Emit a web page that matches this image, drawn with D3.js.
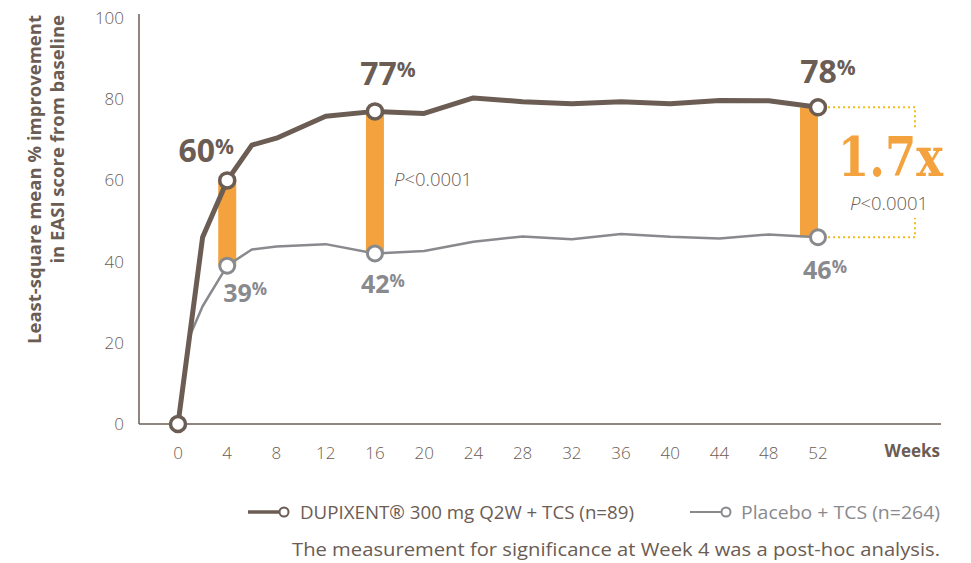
<!DOCTYPE html>
<html lang="en">
<head>
    <meta charset="UTF-8">
    <script src="https://d3js.org/d3.v7.min.js"></script>
    <title>EASI improvement</title>
    <style>
        body { margin: 0; background: #fff; }
        svg { display: block; font-family: "Open Sans", sans-serif; }
    </style>
</head>
<body>
    <script>
        var weeks = [0, 1, 2, 4, 6, 8, 12, 16, 20, 24, 28, 32, 36, 40, 44, 48, 52];
        var dupixent = [0, 23, 46, 60, 68.7, 70.4, 75.8, 77, 76.5, 80.3, 79.4, 78.9, 79.4, 78.9, 79.7, 79.6, 78];
        var placebo = [0, 22, 29, 39, 43, 43.7, 44.3, 42, 42.6, 44.9, 46.2, 45.5, 46.8, 46.1, 45.7, 46.7, 46];
        var markerWeeks = [0, 4, 16, 52];
        var highlightWeeks = [4, 16, 52];
        var xTicks = d3.range(0, 53, 4);
        var yTicks = [0, 20, 40, 60, 80, 100];
        var seriesNames = ['DUPIXENT\u00AE 300 mg Q2W + TCS (n=89)', 'Placebo + TCS (n=264)'];

        var brown = '#6b5c54', grey = '#898a8e', orange = '#f3a23e', gold = '#f6bc1a';
        var width = 971, height = 563;

        var x = d3.scaleLinear().domain([0, 52]).range([178, 818]);
        var y = d3.scaleLinear().domain([0, 100]).range([424, 18]);

        var svg = d3.select('body').append('svg')
            .attr('width', width)
            .attr('height', height);

        var valueAt = function(arr, w) { return arr[weeks.indexOf(w)]; };

        // axes
        svg.append('line')
            .attr('x1', 139).attr('x2', 139)
            .attr('y1', 14).attr('y2', y(0))
            .attr('stroke', brown).attr('stroke-width', 1.5);
        svg.append('line')
            .attr('x1', 139).attr('x2', 941)
            .attr('y1', y(0)).attr('y2', y(0))
            .attr('stroke', brown).attr('stroke-width', 1.5);

        svg.selectAll('.ytick')
            .data(yTicks)
            .enter()
            .append('text')
            .attr('x', 124)
            .attr('y', function(d) { return y(d) + 6; })
            .attr('text-anchor', 'end')
            .attr('font-size', '17px')
            .attr('font-weight', 300)
            .attr('fill', brown)
            .text(function(d) { return d; });

        svg.selectAll('.xtick')
            .data(xTicks)
            .enter()
            .append('text')
            .attr('x', function(d) { return x(d); })
            .attr('y', 459)
            .attr('text-anchor', 'middle')
            .attr('font-size', '17px')
            .attr('font-weight', 300)
            .attr('fill', brown)
            .text(function(d) { return d; });

        svg.append('text')
            .attr('x', 940).attr('y', 457)
            .attr('text-anchor', 'end')
            .attr('font-size', '17px')
            .attr('font-weight', 700)
            .attr('fill', brown)
            .text('Weeks');

        var yTitle = svg.append('text')
            .attr('transform', 'translate(0,15) rotate(-90)')
            .attr('text-anchor', 'end')
            .attr('font-size', '18.5px')
            .attr('font-weight', 700)
            .attr('fill', brown);
        yTitle.append('tspan').attr('x', 0).attr('y', 41).text('Least-square mean % improvement');
        yTitle.append('tspan').attr('x', 0).attr('y', 64).text('in EASI score from baseline');

        // orange difference bars
        var barShift = { 4: 0, 16: 0, 52: -9 };
        svg.selectAll('.diff')
            .data(highlightWeeks)
            .enter()
            .append('rect')
            .attr('x', function(d) { return x(d) - 9 + barShift[d]; })
            .attr('width', 18)
            .attr('y', function(d) { return y(valueAt(dupixent, d)); })
            .attr('height', function(d) { return y(valueAt(placebo, d)) - y(valueAt(dupixent, d)); })
            .attr('fill', orange);

        // dotted bracket at week 52
        var d52 = y(valueAt(dupixent, 52)), p52 = y(valueAt(placebo, 52));
        svg.append('path')
            .attr('d', 'M' + (x(52) + 10) + ',' + d52 + 'H915V130')
            .attr('fill', 'none').attr('stroke', gold)
            .attr('stroke-width', 2).attr('stroke-dasharray', '2,3');
        svg.append('path')
            .attr('d', 'M' + (x(52) + 10) + ',' + p52 + 'H915V218')
            .attr('fill', 'none').attr('stroke', gold)
            .attr('stroke-width', 2).attr('stroke-dasharray', '2,3');

        // lines
        var line = d3.line()
            .x(function(d, i) { return x(weeks[i]); })
            .y(function(d) { return y(d); });

        svg.append('path')
            .datum(placebo)
            .attr('d', line)
            .attr('fill', 'none')
            .attr('stroke', grey)
            .attr('stroke-width', 2.5)
            .attr('stroke-linejoin', 'round');

        svg.append('path')
            .datum(dupixent)
            .attr('d', line)
            .attr('fill', 'none')
            .attr('stroke', brown)
            .attr('stroke-width', 5)
            .attr('stroke-linejoin', 'round');

        // markers
        svg.selectAll('.pmark')
            .data(markerWeeks.slice(1))
            .enter()
            .append('circle')
            .attr('cx', function(d) { return x(d); })
            .attr('cy', function(d) { return y(valueAt(placebo, d)); })
            .attr('r', 7.5)
            .attr('fill', '#fff')
            .attr('stroke', grey)
            .attr('stroke-width', 3);

        svg.selectAll('.dmark')
            .data(markerWeeks)
            .enter()
            .append('circle')
            .attr('cx', function(d) { return x(d); })
            .attr('cy', function(d) { return y(valueAt(dupixent, d)); })
            .attr('r', 7.5)
            .attr('fill', '#fff')
            .attr('stroke', brown)
            .attr('stroke-width', 3.5);

        // value labels
        var dLabelPos = { 4: [-21, -18], 16: [13, -26], 52: [10, -24] };
        var pLabelPos = { 4: [18, 36], 16: [8, 40], 52: [7, 42] };

        var addLabel = function(w, value, pos, color, big, small) {
            var t = svg.append('text')
                .attr('x', x(w) + pos[0])
                .attr('y', y(value) + pos[1])
                .attr('text-anchor', 'middle')
                .attr('font-weight', 700)
                .attr('fill', color);
            t.append('tspan').attr('font-size', big + 'px').text(Math.round(value));
            t.append('tspan').attr('font-size', small + 'px').attr('dy', -big * 0.25).text('%');
        };

        highlightWeeks.forEach(function(w) {
            addLabel(w, valueAt(dupixent, w), dLabelPos[w], brown, 32, 21);
            addLabel(w, valueAt(placebo, w), pLabelPos[w], grey, 25, 17);
        });

        // p-values
        var addP = function(px, py) {
            var t = svg.append('text')
                .attr('x', px).attr('y', py)
                .attr('font-size', '18.5px')
                .attr('font-weight', 300)
                .attr('fill', brown);
            t.append('tspan').attr('font-style', 'italic').text('P');
            t.append('tspan').text('<0.0001');
        };
        addP(394, 186);
        addP(850, 210);

        svg.append('text')
            .attr('x', 838).attr('y', 176)
            .attr('textLength', 105)
            .attr('lengthAdjust', 'spacingAndGlyphs')
            .attr('font-family', '"DejaVu Serif", serif')
            .attr('font-size', '54px')
            .attr('font-weight', 700)
            .attr('fill', orange)
            .text('1.7x');

        // legend
        var legendX = [248, 690], legendText = [300, 741], legendLen = [334, 199];
        var legendColor = [brown, grey], legendW = [3.5, 2];
        seriesNames.forEach(function(name, i) {
            svg.append('line')
                .attr('x1', legendX[i]).attr('x2', legendX[i] + 32)
                .attr('y1', 512).attr('y2', 512)
                .attr('stroke', legendColor[i]).attr('stroke-width', legendW[i]);
            svg.append('circle')
                .attr('cx', legendX[i] + 36).attr('cy', 512).attr('r', 4.5)
                .attr('fill', '#fff')
                .attr('stroke', legendColor[i]).attr('stroke-width', 2);
            svg.append('text')
                .attr('x', legendText[i]).attr('y', 519)
                .attr('font-size', '18px')
                .attr('textLength', legendLen[i])
                .attr('lengthAdjust', 'spacingAndGlyphs')
                .attr('fill', legendColor[i])
                .text(name);
        });

        svg.append('text')
            .attr('x', 292).attr('y', 556)
            .attr('font-size', '18px')
            .attr('textLength', 648)
            .attr('lengthAdjust', 'spacingAndGlyphs')
            .attr('fill', brown)
            .text('The measurement for significance at Week 4 was a post-hoc analysis.');
    </script>
</body>
</html>
